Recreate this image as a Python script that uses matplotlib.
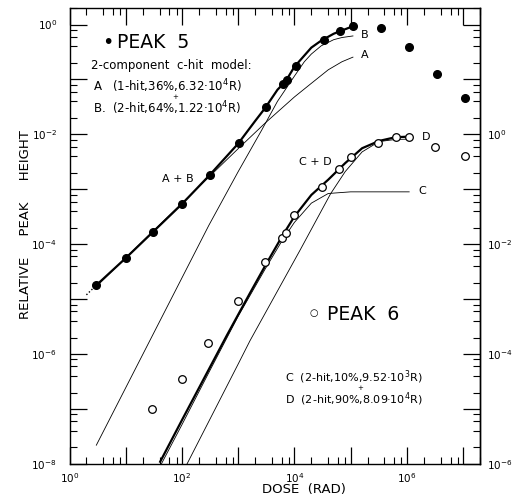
import matplotlib
matplotlib.use('Agg')
import matplotlib.pyplot as plt
import numpy as np
from matplotlib.ticker import LogLocator, FuncFormatter, NullFormatter

# peak 5 (filled points)
dose5 = [3, 10, 30, 100, 310, 1040, 3150, 6200, 7500, 1.05e4, 3.3e4, 6.6e4, 1.1e5,
         3.45e5, 1.1e6, 3.4e6, 1.1e7]
peak5 = [1.8e-5, 5.6e-5, 1.65e-4, 5.3e-4, 1.8e-3, 7.1e-3, 0.031, 0.081, 0.099, 0.178,
         0.53, 0.76, 0.95, 0.85, 0.39, 0.126, 0.046]

# peak 6 (open points)
dose6 = [29, 99, 295, 980, 2950, 6000, 7000, 1.0e4, 3.1e4, 6.3e4, 1.0e5, 3.1e5, 6.4e5,
         1.07e6, 3.2e6, 1.1e7]
peak6 = [1.0e-7, 3.6e-7, 1.6e-6, 9.1e-6, 4.8e-5, 1.32e-4, 1.6e-4, 3.4e-4, 1.1e-3,
         2.3e-3, 3.8e-3, 6.9e-3, 8.9e-3, 9.1e-3, 5.9e-3, 4.0e-3]

# model curves
ab_dose = [3, 10, 30, 100, 300, 1000, 2000, 3000, 5000, 7000, 1e4, 2e4, 3e4, 5e4, 7e4, 1.1e5]
ab_val = [1.8e-5, 5.6e-5, 1.65e-4, 5.4e-4, 1.75e-3, 6.8e-3, 1.75e-2, 3.0e-2, 6.5e-2,
          9.3e-2, 0.17, 0.38, 0.51, 0.68, 0.78, 0.93]
ab_ext_dose = [2, 3]
ab_ext_val = [1.2e-5, 1.8e-5]

a_dose = [3, 10, 100, 1000, 3000, 1e4, 2e4, 4e4, 7e4, 1.1e5]
a_val = [1.7e-5, 5.7e-5, 5.6e-4, 5.5e-3, 0.016, 0.048, 0.085, 0.15, 0.21, 0.255]

b_dose = [3, 30, 300, 1000, 2600, 5000, 1e4, 1.5e4, 2e4, 3e4, 5e4, 7e4, 1.1e5]
b_val = [2.2e-8, 2.2e-6, 2.2e-4, 2.1e-3, 0.0118, 0.04, 0.115, 0.21, 0.29, 0.41, 0.53,
         0.58, 0.62]

cd_dose = [41, 100, 250, 630, 1600, 3200, 6300, 1e4, 2e4, 4e4, 8e4, 1.6e5, 3.2e5, 6.3e5, 1.1e6]
cd_val = [1.1e-8, 6.3e-8, 3.7e-7, 2.2e-6, 1.26e-5, 4.5e-5, 1.5e-4, 3.2e-4, 7.9e-4,
          1.5e-3, 3.0e-3, 5.6e-3, 7.6e-3, 8.9e-3, 9.1e-3]

c_dose = [43, 100, 300, 1000, 3000, 6000, 1e4, 2e4, 4e4, 1e5, 1.1e6]
c_val = [1e-8, 5.2e-8, 4.6e-7, 4.9e-6, 3.5e-5, 1.15e-4, 2.5e-4, 5.6e-4, 8.4e-4, 9.0e-4, 9.0e-4]

d_dose = [123, 1000, 1620, 1.26e4, 4.4e4, 8e4, 1.6e5, 3.2e5, 6.3e5, 1.1e6]
d_val = [1.0e-8, 6.6e-7, 1.75e-6, 7.8e-5, 8.3e-4, 2.1e-3, 4.8e-3, 7.4e-3, 8.1e-3, 8.2e-3]

W, H = 518, 499
fig = plt.figure(figsize=(W / 100, H / 100), dpi=100)
ax = fig.add_axes([69.5 / W, 1 - 464 / H, (480 - 69.5) / W, (464 - 8) / H])
ax.set_xscale('log')
ax.set_yscale('log')
ax.set_xlim(1, 2e7)
ax.set_ylim(1e-8, 2)

thin = dict(color='black', lw=0.6)
ax.plot(a_dose, a_val, **thin)
ax.plot(b_dose, b_val, **thin)
ax.plot(c_dose, c_val, **thin)
ax.plot(d_dose, d_val, **thin)
ax.plot(ab_dose, ab_val, color='black', lw=1.6)
ax.plot(ab_ext_dose, ab_ext_val, color='black', lw=1.0, ls=(0, (1, 1.5)))
ax.plot(cd_dose, cd_val, color='black', lw=1.6)

ax.plot(dose5, peak5, 'o', color='black', ms=5.5, zorder=5)
ax.plot(dose6, peak6, 'o', mfc='white', mec='black', mew=0.9, ms=5.5, zorder=5)


def even_label(v, pos, maxexp=10):
    e = int(round(np.log10(v)))
    if e % 2 or e > maxexp:
        return ''
    return f'$10^{{{e}}}$'


for axis in (ax.xaxis, ax.yaxis):
    axis.set_major_locator(LogLocator(base=10, numticks=20))
    axis.set_minor_locator(LogLocator(base=10, subs=(2, 4, 6, 8), numticks=20))
    axis.set_minor_formatter(NullFormatter())
ax.xaxis.set_major_formatter(FuncFormatter(even_label))
ax.yaxis.set_major_formatter(FuncFormatter(even_label))
ax.tick_params(which='both', direction='in', top=True, right=False, labelsize=7.5)
ax.tick_params(which='major', length=12, width=0.9)
ax.tick_params(which='minor', length=5, width=0.8)
ax.tick_params(axis='y', pad=9)
ax.tick_params(axis='x', pad=5)

sec = ax.secondary_yaxis('right', functions=(lambda y: y * 100, lambda y: y / 100))
sec.yaxis.set_major_locator(LogLocator(base=10, numticks=20))
sec.yaxis.set_minor_locator(LogLocator(base=10, subs=(2, 4, 6, 8), numticks=20))
sec.yaxis.set_minor_formatter(NullFormatter())
sec.yaxis.set_major_formatter(FuncFormatter(lambda v, p: even_label(v, p, maxexp=0)))
sec.tick_params(which='both', direction='in', labelsize=7.5, pad=5)
sec.tick_params(which='major', length=12, width=0.9)
sec.tick_params(which='minor', length=5, width=0.8)

for s in list(ax.spines.values()) + list(sec.spines.values()):
    s.set_linewidth(1.0)


def ptext(px, py, s, **kw):
    kw.setdefault('fontsize', 8)
    kw.setdefault('va', 'center')
    fig.text(px / W, 1 - py / H, s, **kw)


ptext(108, 43, '•', fontsize=14, ha='center')
ptext(117, 43, 'PEAK  5', fontsize=13.5)
ptext(91, 65, '2-component  c-hit  model:', fontsize=8.5)
ptext(93, 86, 'A   (1-hit,36%,6.32·10$^4$R)', fontsize=8.5)
ptext(175, 97, '+', fontsize=5, ha='center')
ptext(93, 108, 'B.  (2-hit,64%,1.22·10$^4$R)', fontsize=8.5)
ptext(178, 179, 'A + B', fontsize=8, ha='center')
ptext(365, 35, 'B', fontsize=8, ha='center')
ptext(365, 55, 'A', fontsize=8, ha='center')
ptext(315, 162, 'C + D', fontsize=8, ha='center')
ptext(426, 137, 'D', fontsize=8, ha='center')
ptext(422, 191, 'C', fontsize=8, ha='center')
ptext(314, 313, '○', fontsize=7, ha='center')
ptext(327, 314, 'PEAK  6', fontsize=13.5)
ptext(285, 377, 'C  (2-hit,10%,9.52·10$^3$R)', fontsize=8)
ptext(360, 388, '+', fontsize=5, ha='center')
ptext(285, 399, 'D  (2-hit,90%,8.09·10$^4$R)', fontsize=8)
ptext(304, 490, 'DOSE  (RAD)', fontsize=9.5, ha='center')
ptext(26, 225, 'RELATIVE     PEAK     HEIGHT', fontsize=9.5, ha='center', rotation=90)

fig.savefig('out.png', dpi=100)
